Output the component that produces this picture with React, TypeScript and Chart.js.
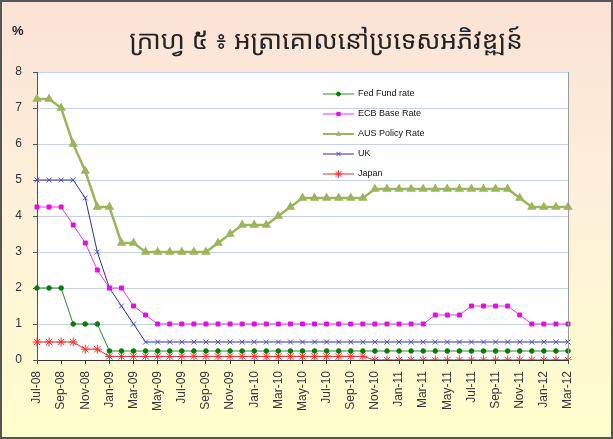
import React, { useEffect, useRef } from "react";
import { Chart, registerables } from "chart.js";
import { drawPoint } from "chart.js/helpers";

Chart.register(...registerables);

const months = [
  "Jul-08", "Aug-08", "Sep-08", "Oct-08", "Nov-08", "Dec-08",
  "Jan-09", "Feb-09", "Mar-09", "Apr-09", "May-09", "Jun-09", "Jul-09", "Aug-09", "Sep-09", "Oct-09", "Nov-09", "Dec-09",
  "Jan-10", "Feb-10", "Mar-10", "Apr-10", "May-10", "Jun-10", "Jul-10", "Aug-10", "Sep-10", "Oct-10", "Nov-10", "Dec-10",
  "Jan-11", "Feb-11", "Mar-11", "Apr-11", "May-11", "Jun-11", "Jul-11", "Aug-11", "Sep-11", "Oct-11", "Nov-11", "Dec-11",
  "Jan-12", "Feb-12", "Mar-12",
];

const fedFund = [
  2, 2, 2, 1, 1, 1,
  0.25, 0.25, 0.25, 0.25, 0.25, 0.25, 0.25, 0.25, 0.25, 0.25, 0.25, 0.25,
  0.25, 0.25, 0.25, 0.25, 0.25, 0.25, 0.25, 0.25, 0.25, 0.25, 0.25, 0.25,
  0.25, 0.25, 0.25, 0.25, 0.25, 0.25, 0.25, 0.25, 0.25, 0.25, 0.25, 0.25,
  0.25, 0.25, 0.25,
];

const ecbBase = [
  4.25, 4.25, 4.25, 3.75, 3.25, 2.5,
  2, 2, 1.5, 1.25, 1, 1, 1, 1, 1, 1, 1, 1,
  1, 1, 1, 1, 1, 1, 1, 1, 1, 1, 1, 1,
  1, 1, 1, 1.25, 1.25, 1.25, 1.5, 1.5, 1.5, 1.5, 1.25, 1,
  1, 1, 1,
];

const ausPolicy = [
  7.25, 7.25, 7, 6, 5.25, 4.25,
  4.25, 3.25, 3.25, 3, 3, 3, 3, 3, 3, 3.25, 3.5, 3.75,
  3.75, 3.75, 4, 4.25, 4.5, 4.5, 4.5, 4.5, 4.5, 4.5, 4.75, 4.75,
  4.75, 4.75, 4.75, 4.75, 4.75, 4.75, 4.75, 4.75, 4.75, 4.75, 4.5, 4.25,
  4.25, 4.25, 4.25,
];

const ukRate = [
  5, 5, 5, 5, 4.5, 3,
  2, 1.5, 1, 0.5, 0.5, 0.5, 0.5, 0.5, 0.5, 0.5, 0.5, 0.5,
  0.5, 0.5, 0.5, 0.5, 0.5, 0.5, 0.5, 0.5, 0.5, 0.5, 0.5, 0.5,
  0.5, 0.5, 0.5, 0.5, 0.5, 0.5, 0.5, 0.5, 0.5, 0.5, 0.5, 0.5,
  0.5, 0.5, 0.5,
];

const japanRate = [
  0.5, 0.5, 0.5, 0.5, 0.3, 0.3,
  0.1, 0.1, 0.1, 0.1, 0.1, 0.1, 0.1, 0.1, 0.1, 0.1, 0.1, 0.1,
  0.1, 0.1, 0.1, 0.1, 0.1, 0.1, 0.1, 0.1, 0.1, 0.1, 0, 0,
  0, 0, 0, 0, 0, 0, 0, 0, 0, 0, 0, 0,
  0, 0, 0,
];

const yTicks = [0, 1, 2, 3, 4, 5, 6, 7, 8];

const seriesNames = ["Fed Fund rate", "ECB Base Rate", "AUS Policy Rate", "UK", "Japan"];

const titleText = "ក្រាហ្វ ៥ ៖ អត្រាគោលនៅប្រទេសអភិវឌ្ឍន៍";

export default function App() {
  const ref = useRef<HTMLCanvasElement | null>(null);

  useEffect(() => {
    const canvas = ref.current;
    if (!canvas) return;

    const decor = {
      id: "decor",
      beforeDraw(chart: any) {
        const { ctx, width, height, chartArea } = chart;
        ctx.save();
        const g = ctx.createLinearGradient(0, 0, 0, height);
        g.addColorStop(0, "#fbe2d6");
        g.addColorStop(0.45, "#fdf0da");
        g.addColorStop(1, "#ffffcc");
        ctx.fillStyle = g;
        ctx.fillRect(0, 0, width, height);
        ctx.fillStyle = "#ffffff";
        ctx.fillRect(chartArea.left, chartArea.top, chartArea.right - chartArea.left, chartArea.bottom - chartArea.top);
        ctx.restore();
      },
      afterDraw(chart: any) {
        const { ctx, width, height, chartArea } = chart;
        ctx.save();
        ctx.strokeStyle = "#9a9a9a";
        ctx.lineWidth = 1;
        ctx.beginPath();
        ctx.moveTo(Math.round(chartArea.right) + 0.5, chartArea.top);
        ctx.lineTo(Math.round(chartArea.right) + 0.5, chartArea.bottom);
        ctx.stroke();
        ctx.strokeStyle = "#555555";
        ctx.lineWidth = 2;
        ctx.strokeRect(1, 1, width - 2, height - 2);
        ctx.fillStyle = "#222";
        ctx.font = "bold 13px 'Liberation Sans', Arial, sans-serif";
        ctx.textAlign = "left";
        ctx.textBaseline = "middle";
        ctx.fillText("%", 12, 31);
        ctx.font = "26px 'Noto Sans Khmer', 'Khmer OS', 'Noto Sans', sans-serif";
        ctx.textAlign = "center";
        ctx.fillText(titleText, 326, 42);
        const rows = [94, 114, 134, 154, 174];
        chart.data.datasets.forEach((ds: any, i: number) => {
          const y = rows[i];
          ctx.strokeStyle = ds.borderColor;
          ctx.lineWidth = Math.min(ds.borderWidth, 2);
          ctx.beginPath();
          ctx.moveTo(323, y);
          ctx.lineTo(354, y);
          ctx.stroke();
          ctx.fillStyle = ds.backgroundColor;
          ctx.strokeStyle = ds.pointBorderColor || ds.borderColor;
          ctx.lineWidth = 1;
          drawPoint(ctx, { pointStyle: ds.pointStyle, radius: ds.pointRadius * 0.85, rotation: 0, borderWidth: 1 }, 338.5, y);
          ctx.fillStyle = "#111";
          ctx.font = "9px 'Liberation Sans', Arial, sans-serif";
          ctx.textAlign = "left";
          ctx.textBaseline = "middle";
          ctx.fillText(ds.label, 358, y);
        });
        ctx.restore();
      },
    };

    const chart = new Chart(canvas, {
      type: "line",
      data: {
        labels: months,
        datasets: [
          {
            label: seriesNames[0],
            data: fedFund,
            borderColor: "#2d8a2d",
            backgroundColor: "#0a7a0a",
            pointBorderColor: "#0a7a0a",
            borderWidth: 1,
            pointStyle: "circle",
            pointRadius: 2.3,
          },
          {
            label: seriesNames[1],
            data: ecbBase,
            borderColor: "#ee33ee",
            backgroundColor: "#e010e0",
            pointBorderColor: "#e010e0",
            borderWidth: 1,
            pointStyle: "rect",
            pointRadius: 2.8,
          },
          {
            label: seriesNames[2],
            data: ausPolicy,
            borderColor: "#9bb55a",
            backgroundColor: "#9bb55a",
            pointBorderColor: "#9bb55a",
            borderWidth: 2.5,
            pointStyle: "triangle",
            pointRadius: 3,
          },
          {
            label: seriesNames[3],
            data: ukRate,
            borderColor: "#2e2e9a",
            backgroundColor: "#4a4ac8",
            pointBorderColor: "#4a4ac8",
            borderWidth: 1,
            pointStyle: "crossRot",
            pointRadius: 3.5,
          },
          {
            label: seriesNames[4],
            data: japanRate,
            borderColor: "#e03030",
            backgroundColor: "#ff2a2a",
            pointBorderColor: "#ff2a2a",
            borderWidth: 1,
            pointStyle: "star",
            pointRadius: 4.5,
          },
        ] as any,
      },
      options: {
        responsive: false,
        animation: false,
        devicePixelRatio: 1,
        layout: { padding: { top: 72, right: 45, left: 0, bottom: 0 } },
        elements: { line: { tension: 0 }, point: { borderWidth: 1 } },
        plugins: {
          legend: { display: false },
          tooltip: { enabled: false },
          title: { display: false },
        },
        scales: {
          x: {
            type: "category",
            offset: false,
            afterFit: (s: any) => { s.height = 79; },
            grid: {
              drawOnChartArea: false,
              drawTicks: true,
              tickLength: 4,
              tickColor: "#444",
            },
            border: { display: true, color: "#333", width: 1 },
            ticks: {
              autoSkip: false,
              maxRotation: 90,
              minRotation: 90,
              padding: 7,
              color: "#333",
              font: { family: "'Liberation Sans', Arial, sans-serif", size: 12 },
              callback: function (_v: any, i: number) {
                return i % 2 === 0 ? months[i] : null;
              },
            },
          },
          y: {
            min: 0,
            max: 8,
            afterFit: (s: any) => { s.width = 37; },
            afterBuildTicks: (s: any) => { s.ticks = yTicks.map((v) => ({ value: v })); },
            grid: {
              color: "rgba(150,170,215,0.55)",
              borderDash: [2, 2],
              tickLength: 4,
              tickColor: "#555",
              tickBorderDash: [],
            } as any,
            border: { display: true, color: "#555", width: 1 },
            ticks: {
              padding: 11,
              color: "#333",
              font: { family: "'Liberation Sans', Arial, sans-serif", size: 12 },
            },
          },
        },
      },
      plugins: [decor],
    });

    return () => chart.destroy();
  }, []);

  return (
    <div style={{ position: "absolute", left: 0, top: 0, width: 613, height: 439 }}>
      <canvas ref={ref} width={613} height={439} style={{ width: 613, height: 439, display: "block" }} />
    </div>
  );
}
